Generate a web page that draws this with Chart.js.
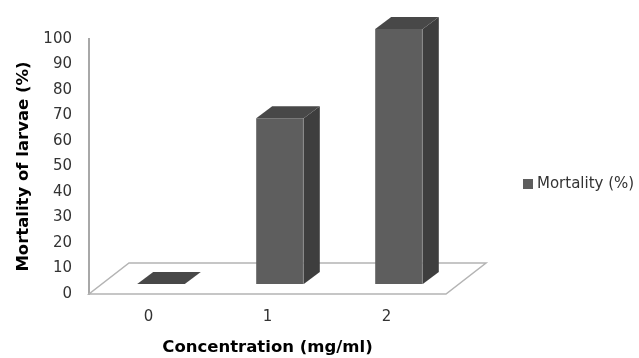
<!DOCTYPE html>
<html>
<head>
<meta charset="utf-8">
<script src="https://cdn.jsdelivr.net/npm/chart.js@4"></script>
<style>
  html, body { margin: 0; padding: 0; background: #ffffff; }
  #wrap { width: 639px; height: 358px; }
</style>
</head>
<body>
<div id="wrap"><canvas id="chart" width="639" height="358"></canvas></div>
<script>
// Larval mortality by extract concentration
const concentrations = ['0', '1', '2'];
const mortality = [0, 65, 100];
const seriesLabel = 'Mortality (%)';
const yAxisTitle = 'Mortality of larvae (%)';
const xAxisTitle = 'Concentration (mg/ml)';

const FRONT = '#5e5e5e';
const TOP = '#484848';
const SIDE = '#3e3e3e';
const FLOOR_LINE = '#b4b4b4';

// Depth geometry of the 3D floor and boxes
const FLOOR_DX = 40, FLOOR_DY = -31;
const BAR_SHIFT_X = 12.5, BAR_SHIFT_Y = -10;
const BAR_DX = 16, BAR_DY = -12;

const floorPlugin = {
  id: 'floor3d',
  beforeDatasetsDraw(chart) {
    const { ctx, chartArea, scales } = chart;
    const y0 = scales.y.getPixelForValue(0);
    const l = chartArea.left, r = chartArea.right;
    ctx.save();
    ctx.beginPath();
    ctx.moveTo(l, y0);
    ctx.lineTo(r, y0);
    ctx.lineTo(r + FLOOR_DX, y0 + FLOOR_DY);
    ctx.lineTo(l + FLOOR_DX, y0 + FLOOR_DY);
    ctx.closePath();
    ctx.fillStyle = '#ffffff';
    ctx.fill();
    ctx.strokeStyle = FLOOR_LINE;
    ctx.lineWidth = 1.5;
    ctx.stroke();
    ctx.restore();
  }
};

const box3dPlugin = {
  id: 'box3d',
  afterDatasetsDraw(chart) {
    const { ctx } = chart;
    chart.data.datasets.forEach((ds, di) => {
      const meta = chart.getDatasetMeta(di);
      meta.data.forEach((bar) => {
        const p = bar.getProps(['x', 'y', 'base', 'width'], true);
        const x1 = p.x - p.width / 2 + BAR_SHIFT_X;
        const x2 = p.x + p.width / 2 + BAR_SHIFT_X;
        const yt = p.y + BAR_SHIFT_Y;
        const yb = p.base + BAR_SHIFT_Y;
        ctx.save();
        // side face
        ctx.beginPath();
        ctx.moveTo(x2, yt);
        ctx.lineTo(x2 + BAR_DX, yt + BAR_DY);
        ctx.lineTo(x2 + BAR_DX, yb + BAR_DY);
        ctx.lineTo(x2, yb);
        ctx.closePath();
        ctx.fillStyle = SIDE;
        ctx.fill();
        // top face
        ctx.beginPath();
        ctx.moveTo(x1, yt);
        ctx.lineTo(x1 + BAR_DX, yt + BAR_DY);
        ctx.lineTo(x2 + BAR_DX, yt + BAR_DY);
        ctx.lineTo(x2, yt);
        ctx.closePath();
        ctx.fillStyle = TOP;
        ctx.fill();
        // front face
        if (yb - yt > 0.5) {
          ctx.fillStyle = FRONT;
          ctx.fillRect(x1, yt, x2 - x1, yb - yt);
          ctx.strokeStyle = 'rgba(255,255,255,0.18)';
          ctx.lineWidth = 1;
          ctx.beginPath();
          ctx.moveTo(x2 - 0.5, yt);
          ctx.lineTo(x2 - 0.5, yb);
          ctx.stroke();
        }
        ctx.restore();
      });
    });
  }
};

const sideLegendPlugin = {
  id: 'sideLegend',
  afterDraw(chart) {
    const { ctx } = chart;
    const ds = chart.data.datasets[0];
    ctx.save();
    ctx.fillStyle = ds.legendColor;
    ctx.fillRect(523, 179, 10, 10);
    ctx.fillStyle = '#333333';
    ctx.font = '15px "DejaVu Sans"';
    ctx.textBaseline = 'middle';
    ctx.textAlign = 'left';
    ctx.fillText(ds.label, 537, 184.5);
    ctx.restore();
  }
};

new Chart(document.getElementById('chart'), {
  type: 'bar',
  data: {
    labels: concentrations,
    datasets: [{
      label: seriesLabel,
      data: mortality,
      backgroundColor: 'rgba(0,0,0,0)',
      legendColor: FRONT,
      barPercentage: 0.4,
      categoryPercentage: 1.0
    }]
  },
  options: {
    responsive: false,
    devicePixelRatio: 1,
    animation: false,
    layout: { padding: { top: 39, right: 193, left: 0, bottom: 0 } },
    plugins: {
      legend: { display: false },
      tooltip: { enabled: false }
    },
    scales: {
      x: {
        grid: { display: false, drawTicks: false },
        border: { display: false },
        ticks: {
          color: '#333333',
          font: { family: 'DejaVu Sans', size: 15 },
          padding: 14
        },
        title: {
          display: true,
          text: xAxisTitle,
          color: '#000000',
          font: { family: 'DejaVu Sans', size: 16.5, weight: 'bold' },
          padding: { top: 0, bottom: 0 }
        },
        afterFit(scale) { scale.height = 64; }
      },
      y: {
        min: 0,
        max: 100,
        grid: { display: false, drawTicks: false },
        border: { display: true, color: '#a8a8a8', width: 2 },
        ticks: {
          stepSize: 10,
          color: '#333333',
          font: { family: 'DejaVu Sans', size: 15 },
          padding: 17
        },
        title: {
          display: true,
          text: yAxisTitle,
          color: '#000000',
          font: { family: 'DejaVu Sans', size: 16.5, weight: 'bold' },
          padding: { top: 14, bottom: 0 }
        },
        afterFit(scale) { scale.width = 89; }
      }
    }
  },
  plugins: [floorPlugin, box3dPlugin, sideLegendPlugin]
});
</script>
</body>
</html>
